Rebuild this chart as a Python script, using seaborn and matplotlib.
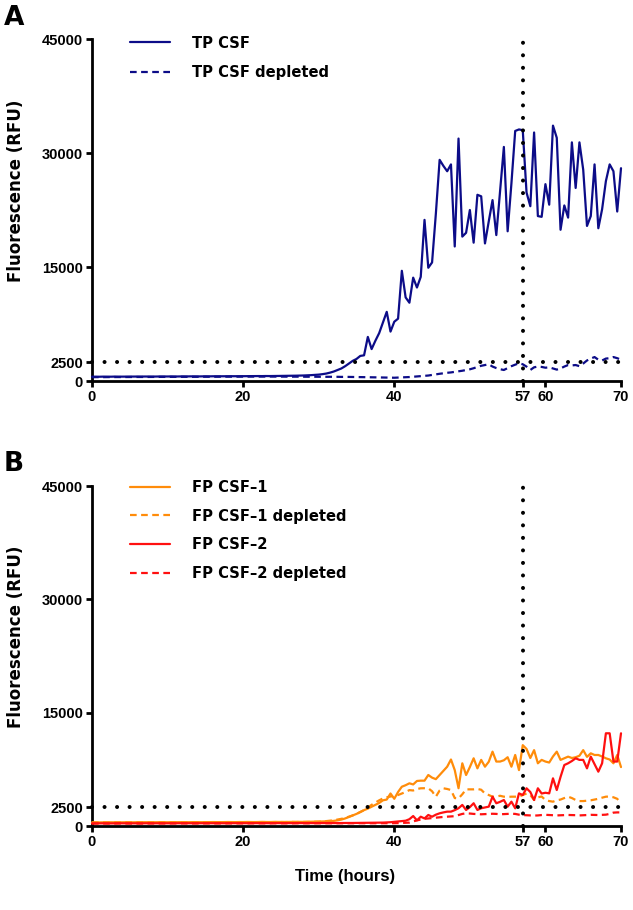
import numpy as np
import pandas as pd
import matplotlib
matplotlib.use("Agg")
import matplotlib.pyplot as plt
import seaborn as sns

# ---------------- data (RFU, every 0.5 h from 0 to 70 h) ----------------
time_h = np.arange(0, 70.5, 0.5)

tp_csf = [560, 570, 560, 575, 570, 565, 580, 570, 575, 580,
          575, 580, 585, 580, 590, 585, 580, 590, 595, 590,
          595, 600, 590, 600, 605, 600, 610, 605, 600, 610,
          615, 610, 620, 615, 620, 625, 620, 630, 625, 630,
          635, 640, 635, 645, 650, 645, 655, 650, 660, 665,
          670, 675, 680, 690, 700, 710, 725, 745, 770, 800,
          840, 900, 980, 1100, 1250, 1450, 1650, 1950, 2300, 2650,
          2900, 3300, 3380, 5800, 4200, 5300, 6300, 7700, 9100, 6500,
          7800, 8200, 14500, 11000, 10300, 13600, 12300, 13700, 21200, 14900,
          15600, 22000,
          29100, 28300, 27600, 28500, 17700, 31900, 19000, 19500, 22500, 18200,
          24500, 24300, 18100,
          21000, 23800, 19200, 25000, 30800, 19700, 26000, 32900, 33100, 33000,
          24800, 23000, 32700, 21700, 21600, 25900, 23200, 33600, 32000, 19900,
          23100, 21500, 31400, 25400, 31400, 27800, 20400, 21700, 28500, 20100,
          22600, 26300, 28500, 27600, 22300, 28000]

tp_csf_dep = [500, 510, 505, 510, 515, 510, 520, 515, 520, 525,
              520, 525, 530, 525, 530, 535, 530, 535, 540, 535,
              540, 545, 540, 545, 550, 545, 550, 555, 550, 555,
              560, 555, 560, 565, 560, 565, 570, 565, 570, 575,
              570, 575, 580, 575, 580, 585, 580, 585, 580, 575,
              580, 575, 570, 575, 570, 565, 570, 560, 565, 560,
              555, 560, 550, 555, 545, 550, 540, 545, 535, 530,
              520, 515, 505, 500, 490, 480, 470, 460, 450, 440,
              430, 450, 480, 500, 520, 560, 600, 650, 680, 720,
              800, 880, 950, 1020, 1080, 1130, 1200, 1260, 1350, 1450,
              1540, 1680, 1850, 2000, 2100, 2200, 1900, 1700, 1550, 1450,
              1700, 1950, 2150, 2330, 2200, 1890, 1450, 1800, 1900, 1850,
              1750, 1800, 1650, 1500, 1650, 1900, 2100, 2050, 2100, 1950,
              2300, 2700, 2950, 3150, 2800, 2700, 2950, 3000, 3150, 3000,
              2800]

fp1 = [470, 480, 475, 485, 480, 490, 485, 480, 490, 495,
       490, 485, 495, 490, 500, 495, 490, 500, 505, 500,
       495, 505, 500, 510, 505, 500, 510, 515, 510, 505,
       515, 510, 520, 515, 510, 520, 525, 520, 515, 525,
       520, 530, 525, 520, 530, 535, 530, 525, 535, 540,
       535, 530, 540, 545, 540, 550, 545, 555, 560, 570,
       580, 600, 620, 640, 680, 750, 850, 1000, 1200, 1400,
       1600, 1850, 2100, 2300, 2550, 2800, 3050, 3400, 3500, 4300,
       3600, 4500, 5200, 5400, 5650, 5500, 5960, 6000, 6000, 6750,
       6400, 6200, 6750, 7300, 7850, 8800, 7400, 5000, 8300, 6750,
       7800, 8960, 7630, 8750, 7850, 8500, 9840, 8530, 8530, 8700,
       9100, 7850, 9400, 7400, 10700, 10200, 9000, 10040, 8300, 8750,
       8530, 8400, 9200, 9840, 8750, 8960, 9180, 9000, 9100, 9300,
       10040, 9150, 9620, 9400, 9400, 9200, 8960, 8800, 8300, 9400,
       7800]

fp1_dep = [460, 470, 465, 475, 470, 480, 475, 470, 480, 485,
           480, 475, 485, 480, 490, 485, 480, 490, 495, 490,
           485, 495, 490, 500, 495, 490, 500, 505, 500, 495,
           505, 500, 510, 505, 500, 510, 515, 510, 505, 515,
           510, 520, 515, 510, 520, 525, 520, 515, 525, 530,
           525, 520, 530, 535, 530, 540, 535, 545, 550, 555,
           560, 600, 650, 700, 760, 850, 950, 1080, 1230, 1400,
           1600, 1850, 2100, 2450, 2800, 3100, 3400, 3650, 3800, 3900,
           4000, 4100, 4300, 4500, 4750, 4700, 4900, 4990, 5000, 4990,
           4600, 3880, 4700, 4990, 4900, 4760, 3700, 3650, 4200, 4850,
           4850, 4850, 4900, 4800, 4300, 4100, 3880, 3900, 4000, 3880,
           3850, 3880, 3880, 3880, 4100, 4300, 4100, 3440, 3800, 3900,
           3440, 3300, 3220, 3400, 3500, 3700, 3880, 3700, 3440, 3300,
           3300, 3350, 3400, 3500, 3600, 3750, 3880, 3900, 3800, 3600,
           3000]

fp2 = [340, 345, 340, 350, 345, 340, 350, 355, 350, 345,
       350, 355, 350, 345, 355, 350, 355, 360, 355, 350,
       355, 360, 355, 360, 365, 360, 355, 360, 365, 360,
       365, 360, 365, 370, 365, 360, 370, 365, 370, 375,
       370, 365, 375, 370, 375, 380, 375, 370, 380, 375,
       380, 385, 380, 375, 385, 380, 385, 390, 385, 380,
       390, 385, 390, 395, 390, 385, 395, 400, 395, 400,
       405, 400, 410, 415, 420, 430, 440, 450, 470, 500,
       550, 600, 650, 700, 900, 1320, 750, 1230, 1000, 1460,
       1230, 1500, 1680, 1800, 1900, 1900, 2100, 2350, 2790, 2120,
       2500, 3010, 2120, 2350, 2450, 2560, 3880, 3010, 3200, 3440,
       2560, 3220, 2340, 4320, 4100, 4990, 4500, 3440, 4990, 4300,
       4400, 4320, 6310, 4760, 6500, 8070, 8300, 8600, 8960, 8750,
       8750, 7630, 9180, 8200, 7190, 8300, 12270, 12270, 8530, 8530,
       12270]

fp2_dep = [320, 325, 320, 330, 325, 320, 330, 335, 330, 325,
           330, 335, 330, 325, 335, 330, 335, 340, 335, 330,
           335, 340, 335, 340, 345, 340, 335, 340, 345, 340,
           345, 340, 345, 350, 345, 340, 350, 345, 350, 355,
           350, 345, 355, 350, 355, 360, 355, 350, 360, 355,
           360, 355, 360, 355, 360, 365, 360, 355, 365, 360,
           365, 360, 365, 360, 365, 370, 365, 360, 365, 370,
           365, 370, 365, 370, 365, 370, 365, 370, 365, 370,
           370, 380, 400, 420, 450, 600, 750, 850, 950, 1000,
           1050, 1100, 1150, 1200, 1230, 1250, 1300, 1450, 1600, 1680,
           1650, 1600, 1580, 1550, 1580, 1600, 1620, 1600, 1550, 1580,
           1600, 1620, 1600, 1500, 1450, 1420, 1400, 1380, 1400, 1450,
           1480, 1450, 1420, 1400, 1420, 1450, 1460, 1450, 1430, 1400,
           1420, 1450, 1480, 1460, 1450, 1480, 1500, 1600, 1770, 1800,
           1800]

threshold_rfu = 2500
cutoff_h = 57
x_ticks = [0, 20, 40, 57, 60, 70]
y_ticks = [0, 2500, 15000, 30000, 45000]

for arr in (tp_csf, tp_csf_dep, fp1, fp1_dep, fp2, fp2_dep):
    assert len(arr) == len(time_h), len(arr)

panel_a = [("TP CSF", tp_csf, "#0c0c88", "-"),
           ("TP CSF depleted", tp_csf_dep, "#0c0c88", (0, (3, 2)))]
panel_b = [("FP CSF\u20131", fp1, "#ff8c0a", "-"),
           ("FP CSF\u20131 depleted", fp1_dep, "#ff8c0a", (0, (3, 2))),
           ("FP CSF\u20132", fp2, "#ff1010", "-"),
           ("FP CSF\u20132 depleted", fp2_dep, "#ff1010", (0, (3, 2)))]

# ---------------- style ----------------
sns.set_style("ticks")
plt.rcParams['font.family'] = ['DejaVu Sans']
plt.rcParams['font.weight'] = 'bold'
plt.rcParams['axes.labelweight'] = 'bold'
for k in ("text.color", "axes.labelcolor", "xtick.color", "ytick.color",
          "axes.edgecolor"):
    plt.rcParams[k] = "black"

W, H = 633, 910
fig = plt.figure(figsize=(W / 100, H / 100), dpi=100)
axA = fig.add_axes([92 / W, 1 - 381 / H, 529 / W, 342 / H])
axB = fig.add_axes([92 / W, 1 - 826 / H, 529 / W, 340 / H])


def draw(ax, series, letter, letter_y, leg_y, leg_sp):
    for name, vals, col, ls in series:
        df = pd.DataFrame({"Time": time_h, "RFU": vals})
        sns.lineplot(data=df, x="Time", y="RFU", ax=ax, color=col, linestyle=ls,
                     linewidth=1.6, label=name, legend=False, clip_on=False, zorder=3)
    dot = dict(color="black", linewidth=2.9, linestyle=(0, (0.01, 3.1)),
               dash_capstyle="round", zorder=4, clip_on=False)
    ax.axhline(threshold_rfu, **dot)
    ax.axvline(cutoff_h, **dot)
    ax.set_xlim(0, 70)
    ax.set_ylim(0, 45000)
    ax.set_xticks(x_ticks)
    ax.set_yticks(y_ticks)
    sns.despine(ax=ax)
    for s in ("left", "bottom"):
        ax.spines[s].set_linewidth(2.0)
        ax.spines[s].set_color("black")
    ax.tick_params(axis="both", direction="out", length=4.5, width=2.0, pad=2,
                   colors="black")
    for lab in ax.get_xticklabels() + ax.get_yticklabels():
        lab.set_fontfamily("Liberation Sans")
        lab.set_fontweight("bold")
        lab.set_fontsize(10.5)
    ax.set_xlabel("")
    ax.set_ylabel("Fluorescence (RFU)", fontsize=12, fontweight="bold", labelpad=0)
    ax.yaxis.set_label_coords(-0.126, 0.556)
    handles = [l for l in ax.get_lines() if not l.get_label().startswith("_")]
    ax.legend(handles=handles, loc="upper left", bbox_to_anchor=(0.072, leg_y),
              frameon=False, handlelength=2.7, handletextpad=1.5,
              labelspacing=leg_sp, borderpad=0, borderaxespad=0,
              prop={"weight": "bold", "size": 10.6})
    fig.text(4 / W, 1 - letter_y / H, letter, fontsize=19, fontweight="bold",
             ha="left", va="top")


draw(axA, panel_a, "A", 5, 1.010, 1.0)
draw(axB, panel_b, "B", 451, 1.018, 0.93)
axB.text(0.478, -0.125, "Time (hours)", transform=axB.transAxes, ha="center",
         va="top", fontsize=12, fontweight="bold", family="Liberation Sans")

fig.savefig("out.png", dpi=100)
